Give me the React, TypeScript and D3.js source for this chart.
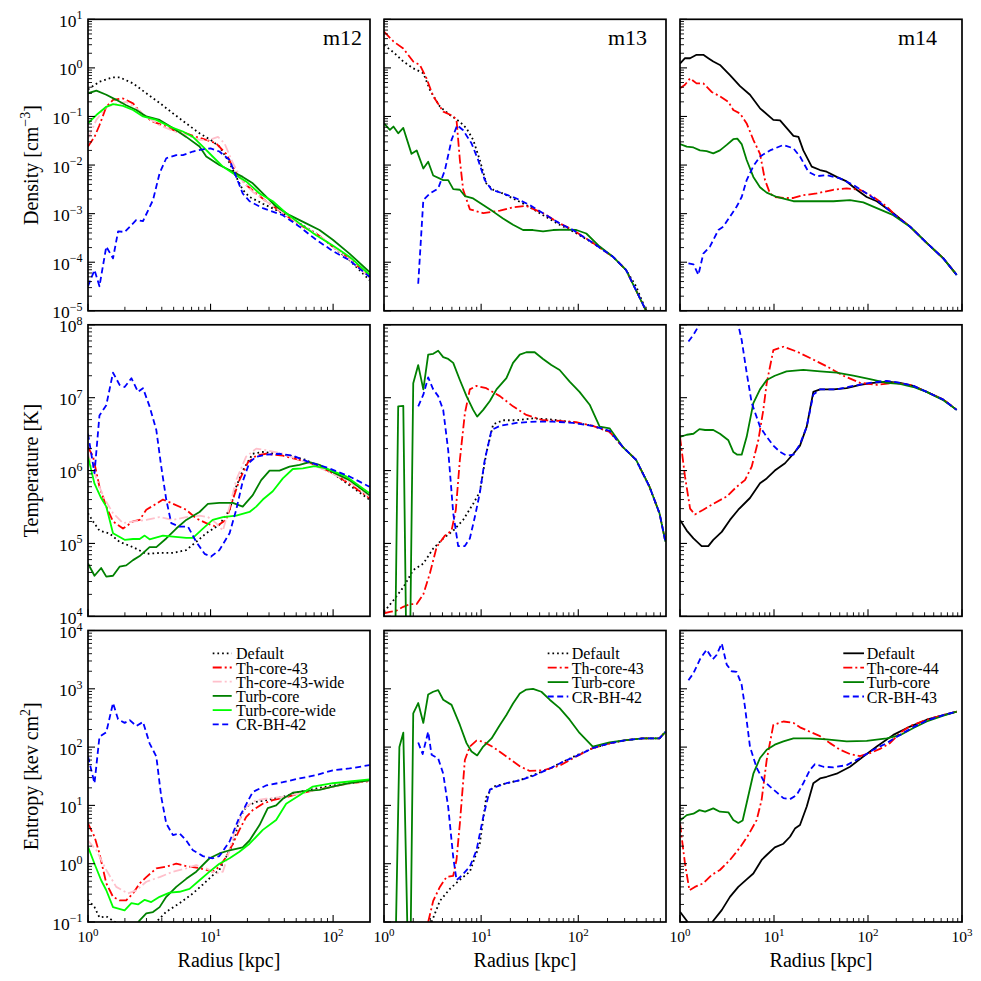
import React from 'react';
import * as d3 from 'd3';

type Pt = [number, number];

// ---------------- Density (cm^-3) ----------------
const d12Default: Pt[] = [[1.00,0.36],[1.24,0.52],[1.60,0.64],[1.81,0.64],[2.33,0.48],[2.99,0.30],[3.84,0.19],[4.93,0.116],[6.33,0.072],[8.13,0.045],[10.0,0.033],[11.8,0.024],[14.3,0.011],[16.2,0.0057],[18.3,0.0031],[20.8,0.0022],[26.7,0.0016],[38.9,0.00102],[53.2,6.3e-4],[72.7,3.9e-4],[99.4,2.1e-4],[136,1.1e-4],[198,4.3e-5]];
const d12Th43: Pt[] = [[1.00,0.024],[1.13,0.038],[1.24,0.066],[1.41,0.158],[1.60,0.22],[1.93,0.235],[2.33,0.186],[2.81,0.107],[3.39,0.078],[4.35,0.062],[5.25,0.049],[6.33,0.045],[7.64,0.038],[9.22,0.033],[11.1,0.028],[13.4,0.017],[16.2,0.0068],[19.5,0.0039],[23.6,0.0026],[28.4,0.0018],[38.9,0.00102],[53.2,5.9e-4],[72.7,3.9e-4],[99.4,2.1e-4],[136,1.2e-4],[198,5.0e-5]];
const d12Th43w: Pt[] = [[1.00,0.035],[1.17,0.085],[1.41,0.158],[1.70,0.18],[2.05,0.20],[2.48,0.147],[2.99,0.10],[3.84,0.066],[4.93,0.051],[6.33,0.042],[8.13,0.033],[9.81,0.033],[11.5,0.038],[13.0,0.028],[15.2,0.011],[18.3,0.0046],[22.1,0.0028],[28.4,0.0018],[38.9,0.00105],[53.2,6.1e-4],[72.7,3.9e-4],[99.4,2.1e-4],[136,1.15e-4],[198,4.8e-5]];
const d12Turb: Pt[] = [[1.00,0.30],[1.17,0.34],[1.41,0.28],[1.70,0.22],[2.05,0.17],[2.48,0.136],[2.99,0.10],[3.84,0.085],[4.93,0.058],[6.33,0.038],[8.13,0.024],[9.22,0.015],[11.8,0.010],[15.2,0.0073],[18.3,0.0057],[22.1,0.0042],[26.7,0.0026],[34.3,0.0014],[44.1,9.3e-4],[60.3,6.3e-4],[77.4,4.6e-4],[99.4,2.9e-4],[136,1.5e-4],[198,6.3e-5]];
const d12TurbW: Pt[] = [[1.00,0.072],[1.17,0.107],[1.41,0.158],[1.60,0.18],[1.93,0.165],[2.33,0.136],[2.81,0.10],[3.61,0.085],[4.63,0.062],[5.95,0.049],[7.18,0.038],[8.66,0.024],[10.4,0.015],[12.6,0.0093],[15.2,0.0068],[19.5,0.0046],[25.1,0.0026],[32.2,0.0018],[41.4,0.00102],[53.2,6.3e-4],[72.7,3.6e-4],[99.4,2.2e-4],[136,1.3e-4],[198,5.5e-5]];
const d12CrBh: Pt[] = [[1.00,3.2e-5],[1.13,6.9e-5],[1.24,3.2e-5],[1.41,2.1e-4],[1.60,1.2e-4],[1.76,4.3e-4],[1.99,4.2e-4],[2.48,7.4e-4],[2.81,7.0e-4],[3.39,0.0019],[3.84,0.0068],[4.35,0.0138],[5.25,0.016],[5.95,0.016],[7.18,0.019],[8.66,0.021],[10.0,0.022],[11.8,0.019],[14.3,0.0127],[16.2,0.0057],[18.3,0.0026],[20.8,0.0018],[26.7,0.0013],[38.9,9.3e-4],[53.2,5.4e-4],[72.7,2.9e-4],[99.4,1.7e-4],[136,1.1e-4],[198,5e-5]];

const d13Default: Pt[] = [[1.00,2.96],[1.25,2.1],[1.58,1.35],[2.00,0.98],[2.54,0.78],[2.97,0.35],[3.76,0.16],[4.77,0.107],[6.04,0.078],[7.07,0.057],[8.28,0.033],[9.69,0.0127],[11.3,0.0042],[13.3,0.0031],[16.8,0.0026],[21.3,0.00205],[29.2,0.0015],[43.4,9.3e-4],[64.3,5.9e-4],[88.2,4.3e-4],[141,2.5e-4],[227,1.3e-4],[311,6.9e-5],[394,3.2e-5],[499,1e-5],[520,8e-6]];
const d13Th43: Pt[] = [[1.00,5.6],[1.25,3.5],[1.58,2.5],[2.00,1.35],[2.34,1.15],[2.74,0.61],[3.21,0.26],[4.07,0.126],[5.16,0.102],[5.58,0.085],[6.04,0.0127],[6.53,0.0031],[7.65,0.00123],[10.5,0.00102],[15.6,0.00115],[21.3,0.00135],[29.2,0.00144],[43.4,0.00102],[64.3,6.3e-4],[88.2,4.6e-4],[141,2.5e-4],[227,1.3e-4],[311,6.9e-5],[499,1e-5],[520,8e-6]];
const d13Turb: Pt[] = [[1.00,0.072],[1.15,0.053],[1.25,0.062],[1.40,0.045],[1.58,0.058],[1.92,0.017],[2.17,0.020],[2.54,0.0085],[2.85,0.0117],[3.21,0.0061],[4.07,0.0049],[4.58,0.0049],[5.16,0.0032],[6.04,0.0031],[6.80,0.0023],[8.28,0.00205],[10.5,0.0015],[13.3,0.0011],[16.8,7.9e-4],[21.3,5.9e-4],[27.0,4.6e-4],[34.2,4.6e-4],[43.4,4.3e-4],[54.9,4.6e-4],[75.3,4.7e-4],[95.4,4.6e-4],[121,3.9e-4],[166,2.1e-4],[227,1.3e-4],[311,6.9e-5],[499,1e-5],[520,8e-6]];
const d13CrBh: Pt[] = [[2.25,3.6e-5],[2.54,0.0019],[2.97,0.0026],[3.61,0.0033],[4.24,0.0079],[4.96,0.033],[5.67,0.066],[6.53,0.052],[7.96,0.028],[9.32,0.0127],[10.9,0.0049],[12.8,0.0031],[16.8,0.0026],[23.1,0.00205],[31.6,0.0015],[43.4,0.00102],[64.3,6.3e-4],[88.2,4.6e-4],[141,2.5e-4],[227,1.3e-4],[311,6.9e-5],[499,1e-5],[520,8e-6]];

const d14Default: Pt[] = [[1.00,1.23],[1.13,1.58],[1.28,1.58],[1.50,1.86],[1.77,1.86],[2.00,1.58],[2.26,1.35],[2.66,1.15],[3.40,0.71],[4.35,0.42],[5.55,0.28],[7.10,0.147],[9.84,0.085],[11.6,0.083],[13.6,0.058],[16.1,0.040],[18.2,0.038],[20.5,0.020],[25.2,0.0093],[30.9,0.0079],[36.3,0.0073],[46.4,0.0057],[59.3,0.0046],[75.8,0.0031],[96.8,0.0022],[124,0.0018],[186,0.00102],[280,5.4e-4],[421,2.5e-4],[633,1.2e-4],[878,5.5e-5]];
const d14Th44: Pt[] = [[1.00,0.38],[1.13,0.45],[1.28,0.61],[1.50,0.48],[1.77,0.48],[2.17,0.32],[2.66,0.26],[3.27,0.20],[3.69,0.136],[4.35,0.115],[5.12,0.072],[6.03,0.033],[7.10,0.017],[8.02,0.0049],[9.07,0.0026],[10.2,0.0022],[12.6,0.0021],[16.1,0.0021],[20.5,0.0024],[28.4,0.0026],[42.8,0.0031],[59.3,0.0033],[82.2,0.0031],[114,0.0022],[158,0.0014],[186,0.00102],[280,5.4e-4],[421,2.5e-4],[633,1.2e-4],[878,5.5e-5]];
const d14Turb: Pt[] = [[1.00,0.027],[1.18,0.024],[1.39,0.023],[1.63,0.020],[1.92,0.0194],[2.26,0.0174],[2.66,0.020],[3.14,0.026],[3.69,0.034],[4.07,0.035],[4.53,0.027],[5.12,0.0127],[6.03,0.0057],[7.10,0.0035],[8.36,0.0027],[10.7,0.0022],[16.1,0.0018],[24.2,0.0018],[30.9,0.0018],[42.8,0.0018],[64.4,0.0019],[89.2,0.0017],[124,0.0013],[186,9.3e-4],[280,5.4e-4],[421,2.5e-4],[633,1.2e-4],[878,5.5e-5]];
const d14CrBh: Pt[] = [[1.23,9.5e-5],[1.39,9e-5],[1.57,5.5e-5],[1.77,1.5e-4],[2.08,2.1e-4],[2.56,4.6e-4],[2.89,5.4e-4],[3.40,8.7e-4],[4.01,0.0014],[4.53,0.0022],[5.12,0.0049],[6.03,0.0095],[7.10,0.015],[9.07,0.020],[12.6,0.026],[16.1,0.022],[18.9,0.015],[23.2,0.0073],[28.4,0.0059],[36.3,0.0062],[50.4,0.0053],[69.8,0.0039],[96.8,0.0026],[134,0.0017],[186,9.8e-4],[280,5.4e-4],[421,2.5e-4],[633,1.2e-4],[878,5.5e-5]];

// ---------------- Temperature (K) ----------------
const t12Default: Pt[] = [[1.00,2.6e5],[1.10,2.0e5],[1.24,1.5e5],[1.50,1.37e5],[1.81,1.05e5],[2.33,8.9e4],[2.99,7.2e4],[3.84,7.4e4],[4.93,7.4e4],[6.33,8.1e4],[7.64,1.05e5],[9.22,1.38e5],[11.8,1.8e5],[14.3,2.9e5],[16.2,6e5],[18.3,1.0e6],[22.1,1.7e6],[26.7,1.8e6],[34.3,1.7e6],[44.1,1.6e6],[60.3,1.4e6],[77.4,1.1e6],[99.4,9.2e5],[136,6.3e5],[198,4.0e5]];
const t12Th43: Pt[] = [[1.00,2.1e6],[1.10,1.55e6],[1.24,6e5],[1.41,3.2e5],[1.60,2.0e5],[1.93,1.6e5],[2.33,2.0e5],[2.64,2.1e5],[2.99,2.9e5],[3.61,3.5e5],[4.09,4.0e5],[4.93,3.5e5],[6.33,2.9e5],[7.64,2.2e5],[9.22,1.9e5],[11.1,1.7e5],[13.4,2.1e5],[15.2,4.0e5],[17.2,7.4e5],[20.2,1.3e6],[23.6,1.6e6],[28.4,1.7e6],[38.9,1.6e6],[53.2,1.4e6],[72.7,1.2e6],[99.4,9.2e5],[136,6.6e5],[198,4.2e5]];
const t12Th43w: Pt[] = [[1.00,1.7e6],[1.13,9.2e5],[1.33,4.4e5],[1.60,2.6e5],[1.93,1.9e5],[2.33,2.0e5],[2.99,2.1e5],[3.84,2.3e5],[4.93,2.1e5],[6.33,2.3e5],[8.13,2.4e5],[9.51,2.3e5],[11.1,1.9e5],[12.6,1.5e5],[14.3,3.2e5],[16.2,7.4e5],[19.5,1.55e6],[23.6,2.0e6],[28.4,1.9e6],[38.9,1.7e6],[60.3,1.3e6],[87.7,1.0e6],[136,7e5],[198,4.4e5]];
const t12Turb: Pt[] = [[1.00,5.3e4],[1.13,3.6e4],[1.28,4.6e4],[1.41,3.5e4],[1.60,3.6e4],[1.81,4.8e4],[2.05,5.0e4],[2.33,5.9e4],[2.64,6.7e4],[3.18,8.9e4],[3.61,8.9e4],[4.35,1.17e5],[5.25,1.6e5],[6.33,2.1e5],[8.13,2.7e5],[9.51,3.5e5],[11.8,3.6e5],[15.2,3.6e5],[18.3,3.2e5],[22.1,4.6e5],[25.9,7.4e5],[30.3,1.0e6],[36.5,1.0e6],[44.1,1.13e6],[53.2,1.2e6],[64.1,1.3e6],[77.4,1.2e6],[99.4,9.5e5],[136,7.4e5],[198,4.6e5]];
const t12TurbW: Pt[] = [[1.00,1.55e6],[1.13,6.6e5],[1.28,4.2e5],[1.41,3.2e5],[1.60,1.38e5],[1.99,1.12e5],[2.33,1.15e5],[2.64,1.15e5],[2.90,1.28e5],[3.18,1.14e5],[4.09,1.28e5],[4.93,1.24e5],[6.33,1.19e5],[7.18,1.19e5],[8.66,1.6e5],[10.4,2.1e5],[12.6,2.3e5],[16.2,2.4e5],[20.8,2.7e5],[23.6,3.2e5],[26.7,4.0e5],[32.2,5.2e5],[38.9,7.8e5],[46.9,1.05e6],[56.6,1.07e6],[70.4,1.15e6],[87.7,1.07e6],[128,8.3e5],[198,4.9e5]];
const t12CrBh: Pt[] = [[1.00,3.2e6],[1.13,9.2e5],[1.24,5.7e6],[1.41,7.9e6],[1.60,2.2e7],[1.81,1.5e7],[1.99,1.4e7],[2.26,1.85e7],[2.56,1.2e7],[2.81,1.35e7],[3.18,7.6e6],[3.61,3.6e6],[3.96,1.13e6],[4.35,4.0e5],[4.78,1.9e5],[5.59,1.7e5],[6.54,1.7e5],[7.64,1.05e5],[8.94,7.2e4],[10.1,6.6e4],[11.8,8.1e4],[14.3,1.38e5],[16.2,2.9e5],[18.3,7.1e5],[20.8,1.3e6],[23.6,1.55e6],[28.4,1.65e6],[36.5,1.7e6],[46.9,1.6e6],[64.1,1.3e6],[93.3,1.07e6],[136,8.3e5],[198,6e5]];

const t13Default: Pt[] = [[1.00,1.15e4],[1.25,1.66e4],[1.58,2.5e4],[2.00,4.3e4],[2.54,5.3e4],[3.21,8.5e4],[4.07,1.17e5],[5.16,1.5e5],[6.53,2.1e5],[8.28,3.5e5],[9.69,5.1e5],[11.3,1.73e6],[13.3,4.3e6],[16.8,4.9e6],[23.1,4.9e6],[34.2,5.2e6],[54.9,5.0e6],[88.2,4.6e6],[141,4.1e6],[210,3.4e6],[288,2.1e6],[394,1.4e6],[541,6e5],[685,2.6e5],[790,1.05e5]];
const t13Th43: Pt[] = [[1.00,1.1e4],[1.15,1.15e4],[1.35,1.2e4],[1.58,1.35e4],[1.85,1.47e4],[2.17,1.47e4],[2.54,2.0e4],[2.97,3.9e4],[3.48,8.9e4],[4.24,1.28e5],[4.96,1.5e5],[5.49,2.9e5],[6.04,1.4e6],[6.80,6.1e6],[7.65,1.3e7],[8.96,1.45e7],[11.3,1.35e7],[15.6,1.05e7],[21.3,7.6e6],[29.2,5.8e6],[43.4,4.9e6],[64.3,4.8e6],[95.4,4.6e6],[141,4.1e6],[210,3.4e6],[288,2.1e6],[394,1.4e6],[541,6e5],[685,2.6e5],[790,1.05e5]];
const t13Turb: Pt[] = [[1.30,3e3],[1.40,7.6e6],[1.58,7.7e6],[1.70,3e3],[1.85,3e3],[2.00,1.58e7],[2.25,2.8e7],[2.54,1.3e7],[2.85,3.9e7],[3.21,4.0e7],[3.61,4.4e7],[4.07,3.6e7],[4.58,3.4e7],[5.16,3.0e7],[6.04,1.75e7],[7.07,1.05e7],[8.28,6.8e6],[9.10,5.5e6],[10.5,6.8e6],[12.3,9.0e6],[14.4,1.3e7],[18.2,1.85e7],[21.3,3.0e7],[25.0,3.9e7],[29.2,4.2e7],[35.6,4.2e7],[43.4,3.4e7],[52.8,2.8e7],[64.3,2.4e7],[81.5,1.66e7],[103,1.2e7],[131,8.0e6],[166,4.0e6],[210,3.8e6],[288,2.1e6],[394,1.4e6],[541,6e5],[685,2.6e5],[790,1.05e5]];
const t13CrBh: Pt[] = [[2.25,7.6e6],[2.54,1.1e7],[2.85,1.9e7],[3.21,1.3e7],[3.61,1.05e7],[4.07,6.8e6],[4.58,1.9e6],[5.16,2.6e5],[5.80,9.2e4],[6.80,9.2e4],[7.65,1.17e5],[8.61,2.3e5],[9.69,4.9e5],[10.9,1.4e6],[12.8,3.6e6],[15.6,4.1e6],[23.1,4.5e6],[37.0,4.7e6],[54.9,4.7e6],[88.2,4.5e6],[141,4.1e6],[210,3.5e6],[288,2.1e6],[394,1.4e6],[541,6e5],[685,2.6e5],[790,1.05e5]];

const t14Default: Pt[] = [[1.00,2.1e5],[1.18,1.5e5],[1.39,1.17e5],[1.70,9.2e4],[2.00,9.2e4],[2.26,1.12e5],[2.78,1.44e5],[3.40,2.1e5],[4.17,2.9e5],[5.55,4.2e5],[7.10,6.7e5],[8.36,7.8e5],[10.2,1.0e6],[13.1,1.26e6],[16.1,1.7e6],[18.9,2.2e6],[22.3,4.0e6],[26.2,1.2e7],[30.9,1.3e7],[42.8,1.3e7],[59.3,1.35e7],[82.2,1.5e7],[114,1.6e7],[158,1.66e7],[219,1.6e7],[304,1.45e7],[421,1.2e7],[633,9.4e6],[878,6.8e6]];
const t14Th44: Pt[] = [[1.00,2.9e6],[1.13,8.3e5],[1.28,3.0e5],[1.44,2.5e5],[1.77,2.9e5],[2.26,3.5e5],[3.14,4.4e5],[4.01,6e5],[4.91,7.4e5],[5.79,1.13e6],[6.81,2.6e6],[7.70,6.8e6],[8.36,1.58e7],[9.84,4.5e7],[12.6,5.0e7],[17.4,4.3e7],[24.2,3.5e7],[36.3,2.7e7],[54.7,2.0e7],[82.2,1.6e7],[124,1.5e7],[186,1.6e7],[280,1.5e7],[421,1.2e7],[633,9.4e6],[878,6.8e6]];
const t14Turb: Pt[] = [[1.00,2.9e6],[1.18,3.1e6],[1.39,3.2e6],[1.61,3.7e6],[1.85,3.6e6],[2.26,3.6e6],[2.66,3.2e6],[3.27,2.6e6],[3.69,1.8e6],[4.07,1.65e6],[4.53,1.65e6],[5.12,2.9e6],[6.03,8.4e6],[7.10,1.3e7],[8.36,1.75e7],[10.2,2.0e7],[13.6,2.3e7],[20.5,2.4e7],[30.9,2.3e7],[46.4,2.2e7],[69.8,2.0e7],[105,1.8e7],[158,1.6e7],[219,1.55e7],[304,1.4e7],[421,1.2e7],[633,9.2e6],[878,6.8e6]];
const t14CrBh: Pt[] = [[1.23,5.9e7],[1.39,7.3e7],[1.57,9.5e7],[1.70,1.3e8],[2.26,3e8],[3.40,3e8],[4.01,1.2e8],[4.17,1e8],[4.53,6.2e7],[5.12,2.2e7],[5.79,8.5e6],[7.10,4.0e6],[8.36,2.9e6],[9.84,2.2e6],[11.6,1.8e6],[13.6,1.6e6],[16.1,1.65e6],[18.9,2.3e6],[22.3,4.0e6],[26.2,1.1e7],[30.9,1.3e7],[46.4,1.3e7],[69.8,1.45e7],[105,1.6e7],[158,1.7e7],[219,1.6e7],[304,1.45e7],[421,1.2e7],[633,9.4e6],[878,6.8e6]];

// ---------------- Entropy (keV cm^2) ----------------
const k12Default: Pt[] = [[1.00,0.24],[1.13,0.18],[1.24,0.12],[1.41,0.125],[1.60,0.105],[1.81,0.09],[2.33,0.06],[3.18,0.06],[3.61,0.1],[4.35,0.15],[5.59,0.21],[7.18,0.31],[8.66,0.44],[10.4,0.63],[11.8,0.78],[13.4,1.3],[15.2,2.2],[17.2,5.6],[19.5,9.5],[23.6,11.5],[28.4,12.3],[38.9,14],[53.2,17],[72.7,19.5],[99.4,22],[136,24],[198,27]];
const k12Th43: Pt[] = [[1.00,4.9],[1.13,2.9],[1.24,1.5],[1.41,0.46],[1.60,0.27],[1.81,0.235],[2.05,0.235],[2.33,0.31],[2.64,0.46],[2.99,0.59],[3.61,0.83],[4.35,0.89],[5.25,1.0],[6.33,0.91],[7.64,0.86],[9.22,0.78],[10.4,0.73],[11.8,0.89],[13.4,1.3],[15.2,2.2],[17.2,3.8],[19.5,6.3],[22.1,8.3],[26.7,10.7],[32.2,12.3],[41.4,13.8],[53.2,16],[72.7,18.4],[99.4,21],[136,24],[198,26]];
const k12Th43w: Pt[] = [[1.00,2.5],[1.17,1.7],[1.41,0.78],[1.70,0.40],[2.12,0.31],[2.48,0.35],[2.99,0.49],[3.84,0.59],[4.93,0.73],[6.33,0.83],[7.64,0.95],[9.22,0.83],[11.1,0.68],[12.6,0.73],[14.3,1.7],[16.2,4.3],[19.5,9.5],[23.6,12.3],[28.4,13],[38.9,14],[53.2,16],[99.4,21],[198,27]];
const k12Turb: Pt[] = [[2.05,0.05],[2.64,0.107],[2.99,0.14],[3.39,0.148],[3.84,0.18],[4.35,0.27],[5.25,0.40],[6.33,0.55],[7.64,0.73],[9.81,1.24],[11.8,1.5],[14.3,1.7],[16.2,1.8],[18.3,1.9],[20.8,2.5],[25.1,4.6],[29.3,9],[34.3,10],[38.9,13],[46.9,16.5],[60.3,17.7],[77.4,18.4],[99.4,21],[136,24],[198,27]];
const k12TurbW: Pt[] = [[1.00,1.95],[1.13,1.0],[1.28,0.52],[1.41,0.35],[1.60,0.18],[1.99,0.158],[2.26,0.21],[2.56,0.2],[2.90,0.24],[3.28,0.22],[3.84,0.27],[4.63,0.32],[5.59,0.33],[6.74,0.37],[8.13,0.52],[9.81,0.73],[11.8,1.0],[14.3,1.24],[17.2,1.6],[20.8,2.2],[26.7,3.8],[34.3,5.6],[41.4,10.7],[53.2,15],[68.3,21],[99.4,24],[198,28]];
const k12CrBh: Pt[] = [[1.00,69],[1.13,24],[1.24,150],[1.41,180],[1.60,570],[1.76,300],[1.99,260],[2.19,290],[2.48,230],[2.81,270],[3.18,116],[3.61,69],[3.96,14],[4.35,4.9],[4.93,3.1],[5.59,3.3],[6.33,2.5],[7.18,1.7],[8.66,1.35],[10.4,1.24],[11.8,1.35],[14.3,2.4],[17.2,6.3],[22.1,17],[28.4,22],[38.9,25],[53.2,29],[72.7,33],[99.4,40],[136,43],[198,49]];

const k13Default: Pt[] = [[3.09,0.1],[3.76,0.23],[4.77,0.37],[6.04,0.53],[7.65,0.73],[9.69,2.2],[11.3,14],[13.3,21],[18.2,24],[25.0,27],[34.2,33],[50.8,43],[69.6,56],[95.4,72],[141,96],[210,116],[311,132],[462,141],[685,141],[790,183]];
const k13Th43: Pt[] = [[2.85,0.1],[3.21,0.23],[3.76,0.40],[4.40,0.59],[5.16,0.62],[5.58,1.17],[6.04,4.9],[6.80,60],[7.65,102],[8.96,129],[10.5,124],[13.3,100],[18.2,69],[25.0,47],[31.6,39],[43.4,40],[64.3,48],[95.4,69],[141,96],[210,116],[311,132],[462,141],[685,141],[790,183]];
const k13Turb: Pt[] = [[1.32,0.05],[1.44,100],[1.58,177],[1.75,0.05],[1.88,0.05],[2.00,380],[2.25,570],[2.54,260],[2.85,800],[3.21,890],[3.61,950],[4.07,650],[4.96,530],[6.04,240],[7.07,117],[7.96,84],[9.10,72],[10.5,102],[12.8,141],[15.6,240],[18.2,355],[21.3,560],[25.0,830],[29.2,970],[34.2,1000],[41.7,890],[50.8,650],[64.3,465],[81.5,295],[103,175],[141,102],[210,120],[311,132],[462,141],[685,141],[790,183]];
const k13CrBh: Pt[] = [[2.25,120],[2.50,76],[2.85,183],[3.09,74],[3.61,64],[4.07,35],[4.58,9.4],[5.16,1.3],[5.58,0.52],[6.28,0.62],[7.65,0.89],[8.96,1.7],[10.5,6.3],[12.3,18.6],[14.4,21],[18.2,24],[25.0,27],[34.2,32],[50.8,43],[69.6,56],[95.4,70],[141,96],[210,116],[311,132],[462,141],[685,141],[790,183]];

const k14Default: Pt[] = [[1.00,0.15],[1.18,0.105],[1.39,0.07],[1.92,0.07],[2.26,0.105],[2.78,0.16],[3.40,0.27],[4.17,0.40],[5.12,0.54],[6.03,0.68],[7.39,1.16],[8.36,1.41],[10.2,1.9],[12.6,2.2],[14.8,2.9],[16.7,4.0],[18.9,4.6],[22.3,9.6],[26.2,24],[30.9,29],[36.3,31],[46.4,35],[64.4,46],[89.2,69],[124,102],[186,162],[280,225],[421,295],[633,355],[878,405]];
const k14Th44: Pt[] = [[1.00,4.9],[1.13,1.0],[1.26,0.35],[1.44,0.40],[1.77,0.46],[2.17,0.64],[2.66,0.78],[3.40,1.16],[4.35,1.9],[5.33,3.1],[6.54,5.6],[7.39,12.5],[8.36,60],[9.84,240],[12.6,275],[16.1,260],[18.9,218],[24.2,183],[30.9,154],[39.4,117],[50.4,90],[64.4,76],[82.2,70],[105,79],[134,93],[171,117],[219,175],[280,230],[421,295],[633,355],[878,405]];
const k14Turb: Pt[] = [[1.00,5.5],[1.18,6.8],[1.39,7.2],[1.61,8.3],[1.85,7.8],[2.26,8.9],[2.66,7.8],[3.27,7.6],[3.69,5.6],[4.17,5.0],[4.64,5.5],[5.12,11],[6.03,35],[7.10,65],[8.36,90],[10.2,110],[12.6,125],[16.1,141],[24.2,141],[36.3,136],[59.3,125],[96.8,128],[158,141],[219,160],[304,213],[421,275],[633,345],[878,405]];
const k14CrBh: Pt[] = [[1.23,1400],[1.39,1850],[1.63,3200],[1.92,4700],[2.23,3200],[2.45,3800],[2.78,6000],[3.14,2600],[3.55,2000],[4.01,1950],[4.53,1170],[4.91,490],[5.55,102],[6.54,44],[7.70,27],[9.07,21],[10.7,16.7],[12.6,13.3],[14.8,12.8],[17.4,15],[20.5,24],[24.2,41],[27.3,51],[33.5,46],[42.8,45],[59.3,49],[82.2,65],[114,90],[158,117],[219,162],[304,220],[421,285],[633,355],[878,405]];

// ---------------- Axes / labels ----------------
const xDomains: [number, number][] = [[1, 200], [1, 800], [1, 1000]];
const yDomains: [number, number][] = [[1e-5, 10], [1e4, 1e8], [0.1, 1e4]];
const xTickExps: number[][] = [[0, 1, 2], [0, 1, 2], [0, 1, 2, 3]];
const yTickExps: number[][] = [[-5, -4, -3, -2, -1, 0, 1], [4, 5, 6, 7, 8], [-1, 0, 1, 2, 3, 4]];
const panelNames = ['m12', 'm13', 'm14'];

type StyleKey = 'dotted' | 'solidBlack' | 'th' | 'thw' | 'turb' | 'turbw' | 'crbh';
const STYLES: Record<StyleKey, { color: string; dash: string | undefined }> = {
  dotted: { color: '#000000', dash: '1.7,3' },
  solidBlack: { color: '#000000', dash: undefined },
  th: { color: '#ff0000', dash: '9,3,2,3' },
  thw: { color: '#ffc0cb', dash: '9,3,2,3' },
  turb: { color: '#008000', dash: undefined },
  turbw: { color: '#00ff00', dash: undefined },
  crbh: { color: '#0000ff', dash: '6,3.5' },
};

const legendCol1 = ['Default', 'Th-core-43', 'Th-core-43-wide', 'Turb-core', 'Turb-core-wide', 'CR-BH-42'];
const legendCol2 = ['Default', 'Th-core-43', 'Turb-core', 'CR-BH-42'];
const legendCol3 = ['Default', 'Th-core-44', 'Turb-core', 'CR-BH-43'];
const styleCol1: StyleKey[] = ['dotted', 'th', 'thw', 'turb', 'turbw', 'crbh'];
const styleCol2: StyleKey[] = ['dotted', 'th', 'turb', 'crbh'];
const styleCol3: StyleKey[] = ['solidBlack', 'th', 'turb', 'crbh'];

const seriesGrid: Pt[][][][] = [
  [
    [d12Default, d12Th43, d12Th43w, d12Turb, d12TurbW, d12CrBh],
    [d13Default, d13Th43, d13Turb, d13CrBh],
    [d14Default, d14Th44, d14Turb, d14CrBh],
  ],
  [
    [t12Default, t12Th43, t12Th43w, t12Turb, t12TurbW, t12CrBh],
    [t13Default, t13Th43, t13Turb, t13CrBh],
    [t14Default, t14Th44, t14Turb, t14CrBh],
  ],
  [
    [k12Default, k12Th43, k12Th43w, k12Turb, k12TurbW, k12CrBh],
    [k13Default, k13Th43, k13Turb, k13CrBh],
    [k14Default, k14Th44, k14Turb, k14CrBh],
  ],
];
const legendLabels = [legendCol1, legendCol2, legendCol3];
const legendStyles = [styleCol1, styleCol2, styleCol3];

const FONT = "'Liberation Serif', 'Times New Roman', 'DejaVu Serif', serif";
const colLeft = [88, 384, 680];
const rowTop = [19.3, 324.8, 630.5];
const PW = 282;
const PH = 291.5;

const minus = (n: number) => (n < 0 ? '\u2212' + Math.abs(n) : String(n));

function minorTicks(domain: [number, number]): number[] {
  const out: number[] = [];
  const e0 = Math.floor(Math.log10(domain[0]));
  const e1 = Math.ceil(Math.log10(domain[1]));
  for (let e = e0; e <= e1; e++) {
    for (let m = 2; m <= 9; m++) {
      const v = m * Math.pow(10, e);
      if (v > domain[0] * 1.0001 && v < domain[1] * 0.9999) out.push(v);
    }
  }
  return out;
}

function Panel({ row, col }: { row: number; col: number }) {
  const x0 = colLeft[col];
  const y0 = rowTop[row];
  const xs = d3.scaleLog().domain(xDomains[col]).range([x0, x0 + PW]);
  const ys = d3.scaleLog().domain(yDomains[row]).range([y0 + PH, y0]);
  const line = d3.line<Pt>().x((d) => xs(d[0])).y((d) => ys(d[1]));
  const clipId = `clip-${row}-${col}`;
  const series = seriesGrid[row][col];
  const styles = legendStyles[col];
  const xMajors = xTickExps[col].map((e) => Math.pow(10, e));
  const yMajors = yTickExps[row].map((e) => Math.pow(10, e));
  const bottom = y0 + PH;
  return (
    <g>
      <defs>
        <clipPath id={clipId}>
          <rect x={x0} y={y0} width={PW} height={PH} />
        </clipPath>
      </defs>
      <g clipPath={`url(#${clipId})`}>
        {series.map((data, i) => (
          <path
            key={i}
            d={line(data) || ''}
            fill="none"
            stroke={STYLES[styles[i]].color}
            strokeWidth={1.8}
            strokeDasharray={STYLES[styles[i]].dash}
            strokeLinejoin="round"
          />
        ))}
      </g>
      {/* ticks */}
      {xMajors.map((v, i) => (
        <line key={'xM' + i} x1={xs(v)} x2={xs(v)} y1={bottom} y2={bottom - 7} stroke="#000" strokeWidth={1.1} />
      ))}
      {minorTicks(xDomains[col]).map((v, i) => (
        <line key={'xm' + i} x1={xs(v)} x2={xs(v)} y1={bottom} y2={bottom - 4} stroke="#000" strokeWidth={0.9} />
      ))}
      {yMajors.map((v, i) => (
        <line key={'yM' + i} x1={x0} x2={x0 + 7} y1={ys(v)} y2={ys(v)} stroke="#000" strokeWidth={1.1} />
      ))}
      {minorTicks(yDomains[row]).map((v, i) => (
        <line key={'ym' + i} x1={x0} x2={x0 + 4} y1={ys(v)} y2={ys(v)} stroke="#000" strokeWidth={0.9} />
      ))}
      <rect x={x0} y={y0} width={PW} height={PH} fill="none" stroke="#000" strokeWidth={1.7} />
      {/* y tick labels */}
      {col === 0 &&
        yTickExps[row].map((e, i) => (
          <text key={'yl' + i} x={x0 - 5.5} y={ys(Math.pow(10, e)) + 7.5} textAnchor="end" fontSize={17.5} fontFamily={FONT}>
            10<tspan dy={-7.5} fontSize={12}>{minus(e)}</tspan>
          </text>
        ))}
      {/* x tick labels */}
      {row === 2 &&
        xTickExps[col].map((e, i) => (
          <text key={'xl' + i} x={xs(Math.pow(10, e))} y={bottom + 20} textAnchor="middle" fontSize={15.5} fontFamily={FONT}>
            10<tspan dy={-6.5} fontSize={11}>{minus(e)}</tspan>
          </text>
        ))}
      {row === 2 && (
        <text x={x0 + PW / 2} y={967} textAnchor="middle" fontSize={20} fontFamily={FONT}>
          Radius [kpc]
        </text>
      )}
      {row === 0 && (
        <text x={x0 + PW - (col === 0 ? 8 : col === 1 ? 19 : 25)} y={45} textAnchor="end" fontSize={22} fontFamily={FONT}>
          {panelNames[col]}
        </text>
      )}
      {row === 2 && <Legend col={col} />}
    </g>
  );
}

const legendGeom = [
  { x1: 212.7, x2: 231.7, tx: 236, y0: 653.3, dy: 14.2 },
  { x1: 547.7, x2: 568.3, tx: 571.7, y0: 653.3, dy: 14.4 },
  { x1: 843.3, x2: 864, tx: 866.7, y0: 653.3, dy: 14.4 },
];

function Legend({ col }: { col: number }) {
  const g = legendGeom[col];
  return (
    <g>
      {legendLabels[col].map((lab, i) => {
        const st = STYLES[legendStyles[col][i]];
        const y = g.y0 + i * g.dy;
        return (
          <g key={i}>
            <line x1={g.x1} x2={g.x2} y1={y} y2={y} stroke={st.color} strokeWidth={1.8} strokeDasharray={st.dash} />
            <text x={g.tx} y={y + 6} fontSize={16} fontFamily={FONT}>
              {lab}
            </text>
          </g>
        );
      })}
    </g>
  );
}

export default function App() {
  const rows = [0, 1, 2];
  const cols = [0, 1, 2];
  const yTitleCenters = rowTop.map((t) => t + PH / 2);
  return (
    <svg width={981} height={981} style={{ position: 'absolute', left: 0, top: 0, background: '#fff' }} fontFamily={FONT}>
      <rect x={0} y={0} width={981} height={981} fill="#fff" />
      {rows.map((r) => cols.map((c) => <Panel key={r + '-' + c} row={r} col={c} />))}
      <text transform={`translate(38,${yTitleCenters[0]}) rotate(-90)`} textAnchor="middle" fontSize={20} fontFamily={FONT}>
        Density [cm<tspan dy={-8} fontSize={14}>{'\u22123'}</tspan><tspan dy={8}>]</tspan>
      </text>
      <text transform={`translate(38,${yTitleCenters[1]}) rotate(-90)`} textAnchor="middle" fontSize={20} fontFamily={FONT}>
        Temperature [K]
      </text>
      <text transform={`translate(38,${yTitleCenters[2]}) rotate(-90)`} textAnchor="middle" fontSize={20} fontFamily={FONT}>
        Entropy [kev cm<tspan dy={-8} fontSize={14}>2</tspan><tspan dy={8}>]</tspan>
      </text>
    </svg>
  );
}
